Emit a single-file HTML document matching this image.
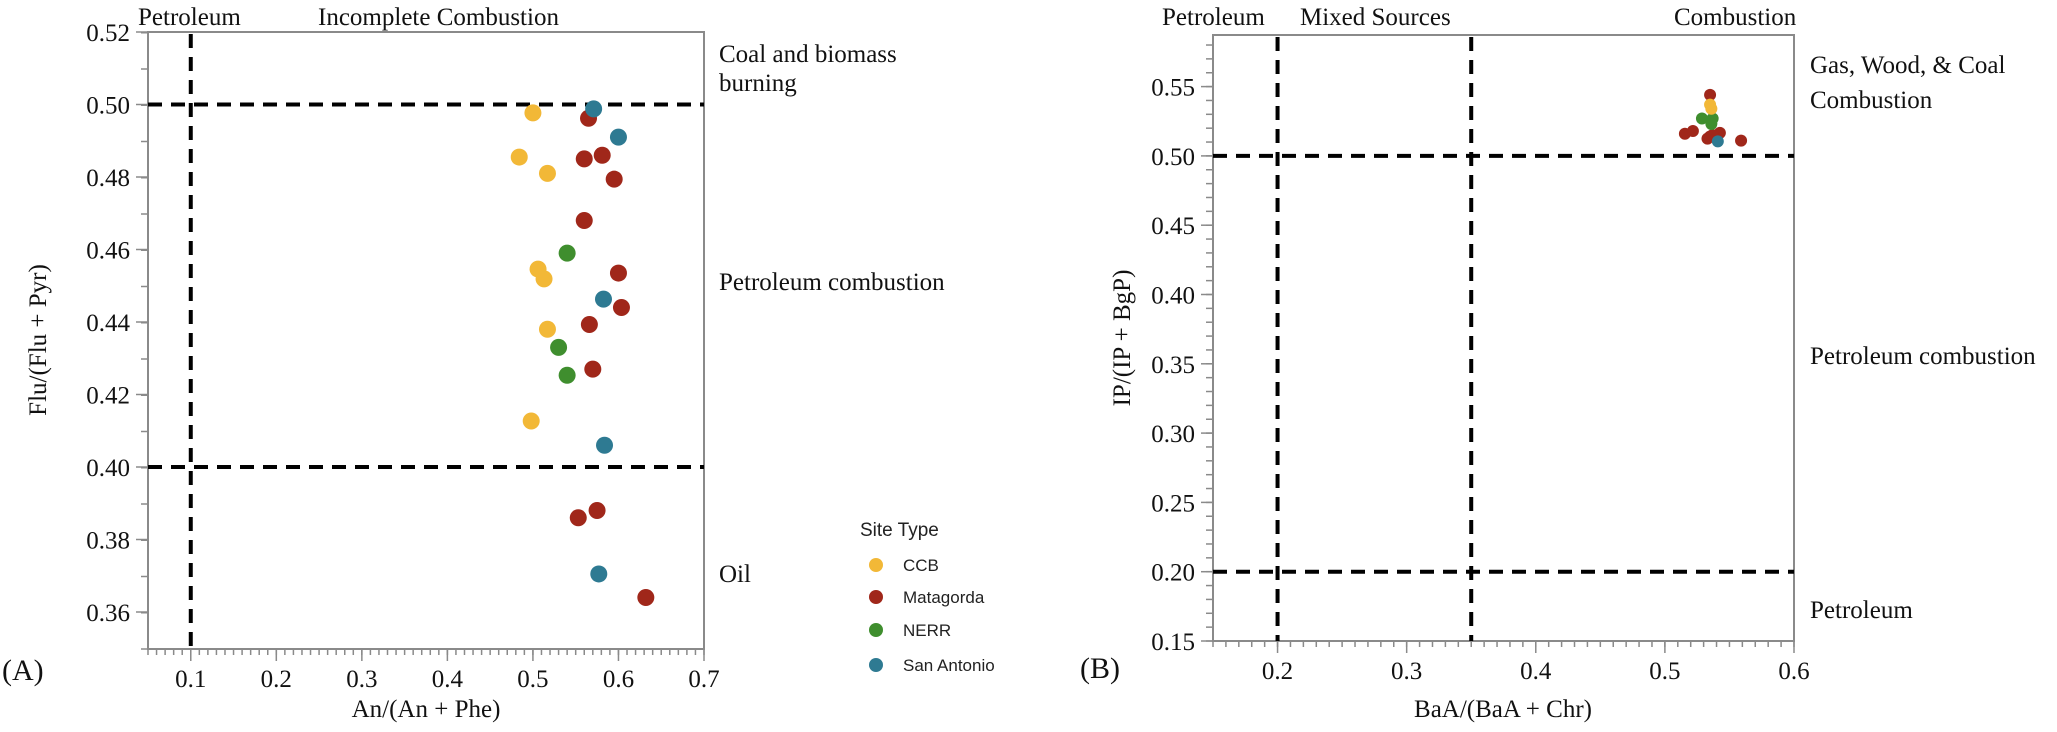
<!DOCTYPE html>
<html><head><meta charset="utf-8"><style>
html,body{margin:0;padding:0;background:#fff;}
svg{display:block;}
.serif{font-family:"Liberation Serif",serif;fill:#111;}
.sans{font-family:"Liberation Sans",sans-serif;fill:#222;}
</style></head><body>
<svg id="chart" width="2057" height="732" viewBox="0 0 2057 732" xmlns="http://www.w3.org/2000/svg">
<g id="gA"></g>
<g id="gB"></g>
<g id="legend"></g>
</svg>
<script>
const colors = {CCB:"#F2B837", Matagorda:"#A0271A", NERR:"#3F8E2E", "San Antonio":"#2E7A92"};
const siteTypes = ["CCB","Matagorda","NERR","San Antonio"];
// Panel A data
const aCCBx = [0.500,0.484,0.517,0.506,0.513,0.517,0.498];
const aCCBy = [0.4977,0.4855,0.481,0.4546,0.4519,0.438,0.4127];
const aMATx = [0.565,0.560,0.581,0.595,0.560,0.600,0.6035,0.566,0.570,0.553,0.575,0.632];
const aMATy = [0.4962,0.485,0.486,0.4794,0.468,0.4535,0.444,0.4393,0.427,0.386,0.388,0.364];
const aNERx = [0.540,0.530,0.540];
const aNERy = [0.459,0.433,0.4253];
const aSANx = [0.571,0.600,0.5825,0.5837,0.577];
const aSANy = [0.4988,0.491,0.4463,0.406,0.3705];
const aXTicks = [0.1,0.2,0.3,0.4,0.5,0.6,0.7];
const aYTicks = [0.36,0.38,0.40,0.42,0.44,0.46,0.48,0.50,0.52];
const aVLines = [0.1];
const aHLines = [0.5,0.4];
// Panel B data
const bCCBx = [0.536,0.535];
const bCCBy = [0.534,0.537];
const bMATx = [0.5155,0.5217,0.533,0.535,0.5426,0.559,0.537,0.535];
const bMATy = [0.516,0.518,0.5125,0.514,0.5166,0.511,0.515,0.544];
const bNERx = [0.5287,0.537,0.536];
const bNERy = [0.527,0.527,0.523];
const bSANx = [0.541];
const bSANy = [0.5105];
const bXTicks = [0.2,0.3,0.4,0.5,0.6];
const bYTicks = [0.15,0.20,0.25,0.30,0.35,0.40,0.45,0.50,0.55];
const bVLines = [0.2,0.35];
const bHLines = [0.5,0.2];

const NS="http://www.w3.org/2000/svg";
function mk(parent,tag,attrs,text){const e=document.createElementNS(NS,tag);for(const k in attrs)e.setAttribute(k,attrs[k]);if(text!==undefined)e.textContent=text;parent.appendChild(e);return e;}

function panel(g,cfg){
  const sx=v=>cfg.x0+(v-cfg.xmin)/(cfg.xmax-cfg.xmin)*(cfg.x1-cfg.x0);
  const sy=v=>cfg.y1-(v-cfg.ymin)/(cfg.ymax-cfg.ymin)*(cfg.y1-cfg.y0);
  // box
  const box=mk(g,'rect',{x:cfg.x0,y:cfg.y0,width:cfg.x1-cfg.x0,height:cfg.y1-cfg.y0,fill:'none',stroke:'#8a8a8a','stroke-width':2});
  
  
  // minor ticks
  for(let v=cfg.xmin;v<=cfg.xmax+1e-9;v+=0.01){const X=sx(v);const t=mk(g,'line',{x1:X,x2:X,y1:cfg.y1,y2:cfg.y1+6,stroke:'#8a8a8a','stroke-width':1.5});
    
    }
  for(let v=cfg.ymin;v<=cfg.ymax+1e-9;v+=0.01){const Y=sy(v);const t=mk(g,'line',{x1:cfg.x0-7,x2:cfg.x0,y1:Y,y2:Y,stroke:'#8a8a8a','stroke-width':1.5});
    
    }
  cfg.xt.forEach(v=>{const X=sx(v);const t=mk(g,'line',{x1:X,x2:X,y1:cfg.y1,y2:cfg.y1+12,stroke:'#8a8a8a','stroke-width':1.5});
    
    
    const l=mk(g,'text',{x:X,y:cfg.y1+38,'text-anchor':'middle','font-size':25,class:'serif'},v.toFixed(1));
    
    });
  cfg.yt.forEach(v=>{const Y=sy(v);const t=mk(g,'line',{x1:cfg.x0-12,x2:cfg.x0,y1:Y,y2:Y,stroke:'#8a8a8a','stroke-width':1.5});
    
    
    const l=mk(g,'text',{x:cfg.x0-18,y:Y+9,'text-anchor':'end','font-size':25,class:'serif'},v.toFixed(2));
    
    });
  cfg.vl.forEach(v=>{const X=sx(v);const l=mk(g,'line',{x1:X,x2:X,y1:cfg.y0+2,y2:cfg.y1,stroke:'#000','stroke-width':4,'stroke-dasharray':'14 9'});
    
    });
  cfg.hl.forEach(v=>{const Y=sy(v);const l=mk(g,'line',{x1:cfg.x0,x2:cfg.x1,y1:Y,y2:Y,stroke:'#000','stroke-width':4,'stroke-dasharray':'14 9'});
    
    });
  cfg.series.forEach(s=>{s.xs.forEach((xv,i)=>{const c=mk(g,'circle',{cx:sx(xv),cy:sy(s.ys[i]),r:cfg.r,fill:colors[s.name]});
    
    });});
}

const gA=document.getElementById('gA');
panel(gA,{x0:148,x1:704,y0:32,y1:649,xmin:0.05,xmax:0.7,ymin:0.52-(649-32)/3625,ymax:0.52,xt:aXTicks,yt:aYTicks,vl:aVLines,hl:aHLines,r:8.5,
  series:[{name:'CCB',xs:aCCBx,ys:aCCBy},{name:'Matagorda',xs:aMATx,ys:aMATy},{name:'NERR',xs:aNERx,ys:aNERy},{name:'San Antonio',xs:aSANx,ys:aSANy}]});
const gB=document.getElementById('gB');
panel(gB,{x0:1213,x1:1794,y0:35,y1:641,xmin:0.15,xmax:0.6,ymin:0.15,ymax:0.15+(641-35)/1386,xt:bXTicks,yt:bYTicks,vl:bVLines,hl:bHLines,r:6,
  series:[{name:'Matagorda',xs:bMATx,ys:bMATy},{name:'San Antonio',xs:bSANx,ys:bSANy},{name:'NERR',xs:bNERx,ys:bNERy},{name:'CCB',xs:bCCBx,ys:bCCBy}]});

// legend
const lg=document.getElementById('legend');
const lt=mk(lg,'text',{x:860,y:536,'font-size':19,class:'sans'},'Site Type');


const lys=[565,597,630,665];
siteTypes.forEach((s,i)=>{
  const c=mk(lg,'circle',{cx:876,cy:lys[i],r:7,fill:colors[s]});
  
  
  const t=mk(lg,'text',{x:903,y:lys[i]+6,'font-size':17,class:'sans'},s);
  
  
});
</script>
<svg width="0" height="0"></svg>
<div style="position:absolute;left:0;top:0;width:2057px;height:732px;pointer-events:none;">
<svg width="2057" height="732" xmlns="http://www.w3.org/2000/svg">
<g class="serif" font-size="25" font-family="Liberation Serif, serif">
<text x="138" y="25">Petroleum</text>
<text x="318" y="25">Incomplete Combustion</text>
<text x="719" y="62">Coal and biomass</text>
<text x="719" y="91">burning</text>
<text x="719" y="290">Petroleum combustion</text>
<text x="719" y="582">Oil</text>
<text x="2" y="680" font-size="30">(A)</text>
<text x="426" y="717" text-anchor="middle">An/(An + Phe)</text>
<text transform="translate(46,340) rotate(-90)" text-anchor="middle">Flu/(Flu + Pyr)</text>
<text x="1162" y="25">Petroleum</text>
<text x="1300" y="25">Mixed Sources</text>
<text x="1674" y="25">Combustion</text>
<text x="1810" y="73">Gas, Wood, &amp; Coal</text>
<text x="1810" y="108">Combustion</text>
<text x="1810" y="364">Petroleum combustion</text>
<text x="1810" y="618">Petroleum</text>
<text x="1080" y="678" font-size="30">(B)</text>
<text x="1503" y="717" text-anchor="middle">BaA/(BaA + Chr)</text>
<text transform="translate(1130,338) rotate(-90)" text-anchor="middle">IP/(IP + BgP)</text>
</g>
</svg>
</div>
</body></html>
